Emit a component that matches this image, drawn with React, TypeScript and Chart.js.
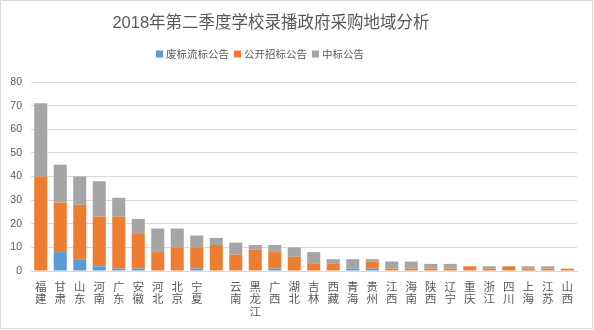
import React, { useEffect, useRef } from "react";
import { Chart, registerables } from "chart.js";

Chart.register(...registerables);

const TITLE = "2018年第二季度学校录播政府采购地域分析";
const categories = ["福建", "甘肃", "山东", "河南", "广东", "安徽", "河北", "北京", "宁夏", "", "云南", "黑龙江", "广西", "湖北", "吉林", "西藏", "青海", "贵州", "江西", "海南", "陕西", "辽宁", "重庆", "浙江", "四川", "上海", "江苏", "山西"];
const seriesNames = ["废标流标公告", "公开招标公告", "中标公告"];
const failedBids = [0, 8, 5, 2, 1, 1, 0, 0, 1, 0, 0, 0, 1, 0, 0, 0, 1, 1, 0, 0, 0, 0, 0, 0, 0, 0, 0, 0];
const openTenders = [40, 21, 23, 21, 22, 15, 8, 10, 9, 11, 7, 9, 7, 6, 3, 3, 0, 3, 1, 1, 1, 1, 2, 1, 2, 1, 1, 1];
const awards = [31, 16, 12, 15, 8, 6, 10, 8, 5, 3, 5, 2, 3, 4, 5, 2, 4, 1, 3, 3, 2, 2, 0, 1, 0, 1, 1, 0];
const yTicks = [0, 10, 20, 30, 40, 50, 60, 70, 80];
const colors = ["#5B9BD5", "#ED7D31", "#A5A5A5"];

const FONT = "'Liberation Sans', 'Noto Sans CJK SC', sans-serif";
const CJK_FONT = "'Noto Sans CJK SC', sans-serif";
const TEXT = "#595959";

const headerPlugin = {
  id: "header",
  afterDraw(chart: any) {
    const ctx = chart.ctx as CanvasRenderingContext2D;
    ctx.save();
    ctx.fillStyle = TEXT;
    ctx.font = `16.5px ${FONT}`;
    ctx.textAlign = "center";
    ctx.textBaseline = "middle";
    ctx.fillText(TITLE, 271, 23);

    ctx.font = `10.5px ${CJK_FONT}`;
    ctx.textAlign = "left";
    const box = 7, gap = 3, itemGap = 5;
    const ds = chart.data.datasets;
    const widths = ds.map((d: any) => ctx.measureText(d.label).width);
    const total = widths.reduce((a: number, w: number) => a + box + gap + w, 0) + itemGap * (ds.length - 1);
    let x = 260 - total / 2;
    const cy = 54;
    ds.forEach((d: any, i: number) => {
      ctx.fillStyle = d.backgroundColor;
      ctx.fillRect(x, cy - box / 2, box, box);
      ctx.fillStyle = TEXT;
      ctx.fillText(d.label, x + box + gap, cy + 0.5);
      x += box + gap + widths[i] + itemGap;
    });
    ctx.restore();
  },
};

export default function App() {
  const ref = useRef<HTMLCanvasElement>(null);
  useEffect(() => {
    document.body.style.margin = "0";
    const chart = new Chart(ref.current!, {
      type: "bar",
      data: {
        labels: categories,
        datasets: [failedBids, openTenders, awards].map((data, i) => ({
          label: seriesNames[i],
          data,
          backgroundColor: colors[i],
          borderWidth: 0,
          categoryPercentage: 1,
          barPercentage: 0.67,
        })),
      },
      options: {
        animation: false,
        responsive: false,
        maintainAspectRatio: false,
        layout: { padding: { top: 82, right: 17, left: 0, bottom: 0 } },
        plugins: {
          legend: { display: false },
          title: { display: false },
          tooltip: { enabled: false },
        },
        scales: {
          x: {
            stacked: true,
            grid: { display: false, drawTicks: false },
            border: { display: true, color: "#D9D9D9", width: 1 },
            ticks: {
              autoSkip: false,
              maxRotation: 0,
              minRotation: 0,
              padding: 9,
              color: TEXT,
              font: { family: CJK_FONT, size: 11.5, lineHeight: 1.1 },
              callback: (_v: any, i: number) => (categories[i] ? Array.from(categories[i]) : ""),
            },
            afterFit: (s: any) => { s.height = 59; },
          },
          y: {
            stacked: true,
            min: 0,
            max: 80,
            afterBuildTicks: (s: any) => { s.ticks = yTicks.map((v) => ({ value: v })); },
            grid: { color: "#D9D9D9", drawTicks: false, lineWidth: 1 },
            border: { display: false },
            ticks: { padding: 9, color: TEXT, font: { family: FONT, size: 10.5 } },
            afterFit: (s: any) => { s.width = 31; },
          },
        },
      },
      plugins: [headerPlugin],
    });
    return () => chart.destroy();
  }, []);
  return (
    <div style={{ position: "relative", width: 594, height: 330 }}>
      <canvas ref={ref} width={594} height={330} style={{ display: "block" }} />
      <div style={{ position: "absolute", left: 0, top: 0, width: 593, height: 329, boxSizing: "border-box", border: "1px solid #D9D9D9", pointerEvents: "none" }} />
    </div>
  );
}
